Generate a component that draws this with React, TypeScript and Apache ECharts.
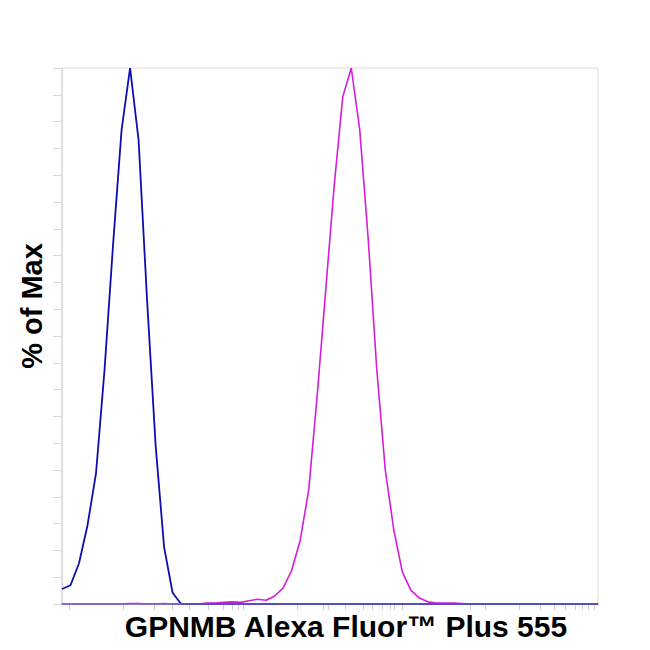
import React, { useEffect, useRef } from "react";
import * as echarts from "echarts";

// histogram bins (channel index, 64 bins)
const bins: string[] = Array.from({ length: 64 }, (_, i) => String(i));

// % of Max, control (blue)
const controlValues = [
  2.8, 3.5, 7.6, 14.7, 24.4, 43.7, 67.0, 88.4, 100, 86.6, 56.7, 29.7, 10.6, 2.1, 0,
  0, 0, 0, 0, 0, 0, 0, 0, 0, 0, 0, 0, 0, 0, 0,
  0, 0, 0, 0, 0, 0, 0, 0, 0, 0, 0, 0, 0, 0, 0,
  0, 0, 0, 0, 0, 0, 0, 0, 0, 0, 0, 0, 0, 0, 0,
  0, 0, 0, 0,
];

// % of Max, GPNMB stained (magenta)
const stainedValues = [
  0, 0, 0, 0, 0, 0, 0, 0, 0.1, 0.1, 0, 0, 0.1, 0, 0, 0,
  0, 0.2, 0.2, 0.3, 0.4, 0.3, 0.6, 0.9, 0.7, 1.5, 3.0, 6.3, 11.9, 21.3, 39.0, 58.6,
  78.2, 94.6, 100, 88.4, 67.9, 43.7, 25.0, 13.8, 6.0, 2.6, 1.1, 0.4, 0.2, 0.2, 0.2, 0.1,
  0, 0, 0, 0, 0, 0, 0, 0, 0, 0, 0, 0, 0, 0, 0, 0,
];

// x-axis (logicle) tick positions, in bin units
const xTickPositions = [
  0.8, 7.2, 10.9, 13.0, 15.0, 17.2, 18.9, 20.0, 20.7, 21.3, 27.7, 30.7, 31.3, 33.3,
  35.4, 36.5, 37.6, 38.6, 39.1, 40.0, 48.0, 49.8, 53.8, 56.2, 57.9, 59.2, 60.3, 61.1,
  61.9, 62.6,
];

const yTitle = "% of Max";
const xTitle = "GPNMB Alexa Fluor™ Plus 555";

export default function App() {
  const ref = useRef<HTMLDivElement>(null);
  useEffect(() => {
    if (!ref.current) return;
    const chart = echarts.init(ref.current, null, { renderer: "svg" });
    const fine: string[] = Array.from({ length: 631 }, (_, i) => String(i));
    const tickSet = new Set(xTickPositions.map((p) => Math.round(p * 10)));
    chart.setOption({
      animation: false,
      backgroundColor: "#ffffff",
      grid: {
        left: 62,
        right: 52,
        top: 68,
        bottom: 46,
        show: true,
        borderColor: "#dcdcdc",
        borderWidth: 1,
      },
      xAxis: [
        {
          type: "category",
          data: bins,
          boundaryGap: false,
          z: 10,
          axisLine: { show: true, lineStyle: { color: "#6c64d4", width: 1.5 } },
          axisTick: { show: false },
          axisLabel: { show: false },
          splitLine: { show: false },
        },
        {
          type: "category",
          data: fine,
          boundaryGap: false,
          position: "bottom",
          axisLine: { show: false },
          axisTick: {
            show: true,
            length: 6,
            interval: (index: number) => tickSet.has(index),
            lineStyle: { color: "#cfcfcf", width: 1 },
          },
          axisLabel: { show: false },
          splitLine: { show: false },
        },
      ],
      yAxis: {
        type: "value",
        min: 0,
        max: 100,
        interval: 5,
        axisLine: { show: true, lineStyle: { color: "#d8d8d8", width: 1.5 } },
        axisTick: { show: true, length: 9, lineStyle: { color: "#d8d8d8" } },
        axisLabel: { show: false },
        splitLine: { show: false },
      },
      series: [
        {
          type: "line",
          data: stainedValues,
          xAxisIndex: 0,
          showSymbol: false,
          lineStyle: { color: "#d21ed8", width: 1.6 },
          itemStyle: { color: "#d21ed8" },
          z: 2,
        },
        {
          type: "line",
          data: controlValues,
          xAxisIndex: 0,
          showSymbol: false,
          lineStyle: { color: "#0d0db0", width: 1.8 },
          itemStyle: { color: "#0d0db0" },
          z: 3,
        },
      ],
      graphic: [
        {
          type: "text",
          x: 32,
          y: 306,
          rotation: Math.PI / 2,
          style: {
            text: yTitle,
            font: "bold 29px 'Liberation Sans', Arial, sans-serif",
            fill: "#000",
            align: "center",
            verticalAlign: "middle",
          },
        },
        {
          type: "text",
          x: 346,
          y: 626,
          style: {
            text: xTitle,
            font: "bold 30px 'Liberation Sans', Arial, sans-serif",
            fill: "#000",
            align: "center",
            verticalAlign: "middle",
          },
        },
      ],
    });
    return () => chart.dispose();
  }, []);
  return (
    <div
      ref={ref}
      style={{ position: "fixed", left: 0, top: 0, width: 650, height: 650 }}
    />
  );
}
